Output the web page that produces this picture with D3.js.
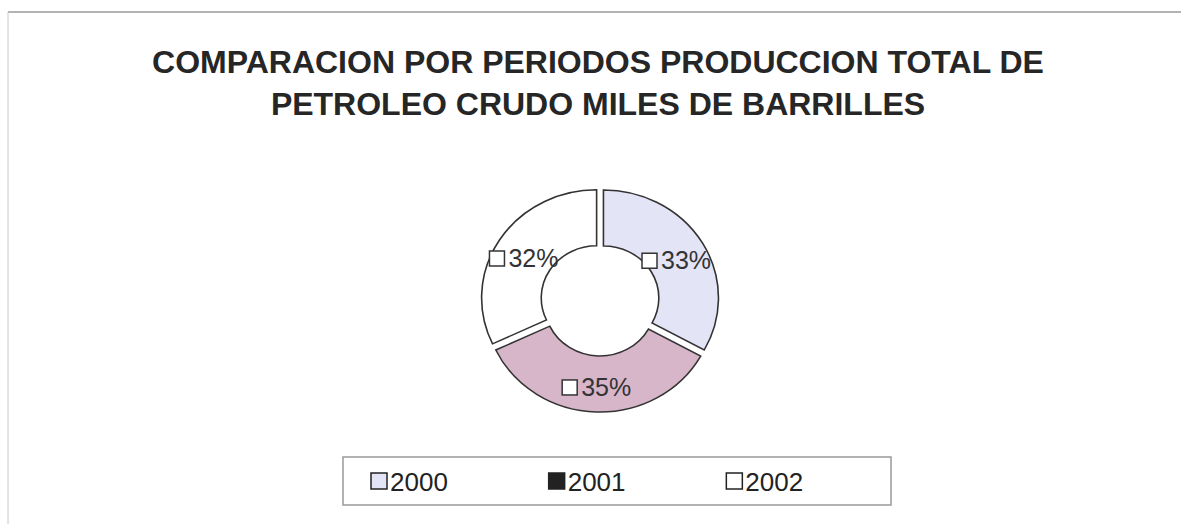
<!DOCTYPE html>
<html>
<head>
<meta charset="utf-8">
<script src="https://cdn.jsdelivr.net/npm/d3@7"></script>
<style>
  body { margin: 0; background: #fff; }
  svg { display: block; font-family: "Liberation Sans", Arial, sans-serif; }
</style>
</head>
<body>
<div id="chart"></div>
<script>
// data
var years = ['2000', '2001', '2002'];
var shares = [33, 35, 32];
var sliceColors = ['#e4e4f7', '#d8b6ca', '#ffffff'];
var legendColors = ['#e4e4f7', '#222222', '#ffffff'];
var titleLines = ['COMPARACION POR PERIODOS PRODUCCION TOTAL DE', 'PETROLEO CRUDO MILES DE BARRILLES'];

var width = 1181,
    height = 524;

var svg = d3.select('#chart').append('svg')
  .attr('width', width)
  .attr('height', height);

// chart frame (only top and left edges show in the scan)
svg.append('line')
  .attr('x1', 8).attr('y1', 12).attr('x2', width).attr('y2', 12)
  .attr('stroke', '#9a9a9a').attr('stroke-width', 1.5);
svg.append('line')
  .attr('x1', 8).attr('y1', 12).attr('x2', 8).attr('y2', height)
  .attr('stroke', '#c8c8c8').attr('stroke-width', 1);

// title
svg.append('g').selectAll('text')
  .data(titleLines)
  .enter().append('text')
  .attr('x', 598)
  .attr('y', (d, i) => 73 + i * 42)
  .attr('text-anchor', 'middle')
  .attr('font-size', 32)
  .attr('font-weight', 'bold')
  .attr('fill', '#262626')
  .text(d => d);

// donut - scan is a bit wider than tall, so stretch x slightly
var cx = 600, cy = 300,
    outerR = 108, innerR = 52,
    explode = 4, stretch = 1.065;

var pie = d3.pie().sort(null).value(d => d.value);
var arc = d3.arc().innerRadius(innerR).outerRadius(outerR);
var labelArc = d3.arc().innerRadius(84).outerRadius(84);

var slices = pie(years.map((y, i) => ({ year: y, value: shares[i], color: sliceColors[i] })));

var donut = svg.append('g').attr('transform', `translate(${cx},${cy})`);

donut.selectAll('path')
  .data(slices)
  .enter().append('path')
  .attr('transform', d => {
    var mid = (d.startAngle + d.endAngle) / 2;
    return `translate(${explode * Math.sin(mid)},${-explode * Math.cos(mid)}) scale(${stretch},1)`;
  })
  .attr('d', arc)
  .attr('fill', d => d.data.color)
  .attr('stroke', '#333')
  .attr('stroke-width', 1.5);

var labels = donut.selectAll('g.lbl')
  .data(slices)
  .enter().append('g')
  .attr('class', 'lbl')
  .attr('transform', d => {
    var c = labelArc.centroid(d);
    return `translate(${c[0] * stretch},${c[1] + 4})`;
  });

labels.append('rect')
  .attr('x', -35).attr('y', -8)
  .attr('width', 15).attr('height', 15)
  .attr('fill', '#fff')
  .attr('stroke', '#333')
  .attr('stroke-width', 1.5);

labels.append('text')
  .attr('x', -16)
  .attr('y', 8)
  .attr('font-size', 25)
  .attr('fill', '#333')
  .text(d => d.data.value + '%');

// legend
var legendX = d3.scaleBand().domain(years).range([343, 876]);

svg.append('rect')
  .attr('x', 343).attr('y', 457)
  .attr('width', 548).attr('height', 48)
  .attr('fill', '#fff')
  .attr('stroke', '#999')
  .attr('stroke-width', 1.5);

var items = svg.append('g').selectAll('g')
  .data(years)
  .enter().append('g')
  .attr('transform', d => `translate(${legendX(d) + 28},481)`);

items.append('rect')
  .attr('x', 0).attr('y', -8)
  .attr('width', 16).attr('height', 16)
  .attr('fill', (d, i) => legendColors[i])
  .attr('stroke', '#222')
  .attr('stroke-width', 1.5);

items.append('text')
  .attr('x', 19)
  .attr('y', 10)
  .attr('font-size', 26)
  .attr('fill', '#222')
  .text(d => d);
</script>
</body>
</html>
